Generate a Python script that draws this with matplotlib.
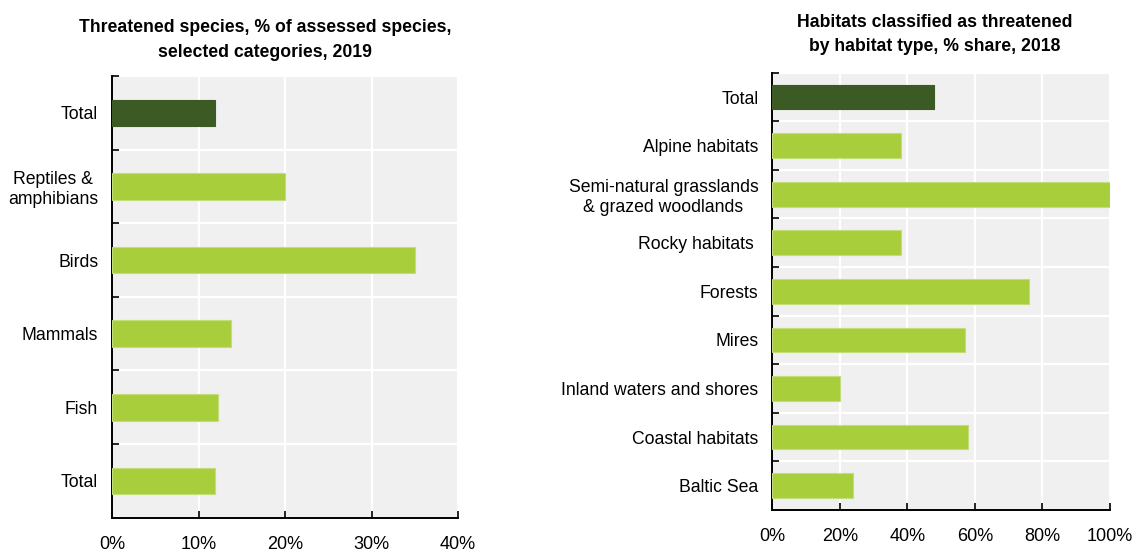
import matplotlib.pyplot as plt
from matplotlib.ticker import FixedLocator

plt.rcParams['font.family'] = ['Liberation Sans Narrow', 'Liberation Sans', 'DejaVu Sans']

# Threatened species, 2019 (% of assessed species)
species_labels = ['Total', 'Reptiles &\namphibians', 'Birds', 'Mammals', 'Fish', 'Total']
species_values = [11.9, 20.0, 35.0, 13.8, 12.3, 11.9]

# Habitats classified as threatened, 2018 (% share)
habitat_labels = ['Total', 'Alpine habitats', 'Semi-natural grasslands\n& grazed woodlands',
                  'Rocky habitats ', 'Forests', 'Mires', 'Inland waters and shores',
                  'Coastal habitats', 'Baltic Sea']
habitat_values = [48, 38, 100, 38, 76, 57, 20, 58, 24]

DARK = '#3b5a24'
LIGHT = '#a9ce3b'
BG = '#f0f0f0'


def draw_panel(ax, labels, values, xmax, xstep, bar_h, title, title_x, title_y):
    n = len(labels)
    ys = list(range(n))
    colors = [DARK] + [LIGHT] * (n - 1)
    edges = [DARK] + ['#c3dd7a'] * (n - 1)
    ax.barh(ys, values, height=bar_h, color=colors, edgecolor=edges, linewidth=0.8, zorder=3)

    ax.set_facecolor(BG)
    ax.set_xlim(0, xmax)
    ax.set_ylim(n - 0.5, -0.5)

    xt = list(range(0, xmax + 1, xstep))
    ax.set_xticks(xt)
    ax.set_xticklabels([f'{v}%' for v in xt], fontsize=13)
    ax.tick_params(axis='x', direction='in', length=5, width=1.2, pad=13, colors='black')

    ax.set_yticks(ys)
    ax.set_yticklabels(labels, fontsize=12.7, multialignment='center', linespacing=1.2)
    ax.tick_params(axis='y', which='major', length=0, pad=10)
    ax.yaxis.set_minor_locator(FixedLocator([i - 0.5 for i in range(n)]))
    ax.tick_params(axis='y', which='minor', direction='in', length=5, width=1.2)

    ax.grid(axis='x', which='major', color='white', linewidth=1.6, zorder=1)
    ax.grid(axis='y', which='minor', color='white', linewidth=1.6, zorder=1)
    ax.set_axisbelow(True)

    for side in ('top', 'right'):
        ax.spines[side].set_visible(False)
    for side in ('left', 'bottom'):
        ax.spines[side].set_linewidth(1.4)
        ax.spines[side].set_color('black')

    fig.text(title_x, title_y, title, ha='center', va='top', fontsize=12.7,
             fontweight='bold', linespacing=1.55)


fig = plt.figure(figsize=(11.34, 5.53), dpi=100)
ax1 = fig.add_axes([0.0988, 0.0638, 0.3051, 0.7988])
ax2 = fig.add_axes([0.6810, 0.0778, 0.2978, 0.7907])

draw_panel(ax1, species_labels, species_values, 40, 10, 0.36,
           'Threatened species, % of assessed species,\nselected categories, 2019',
           0.234, 0.965)
draw_panel(ax2, habitat_labels, habitat_values, 100, 20, 0.51,
           'Habitats classified as threatened\nby habitat type, % share, 2018',
           0.824, 0.975)

fig.savefig('out.png', dpi=100, facecolor='white')
